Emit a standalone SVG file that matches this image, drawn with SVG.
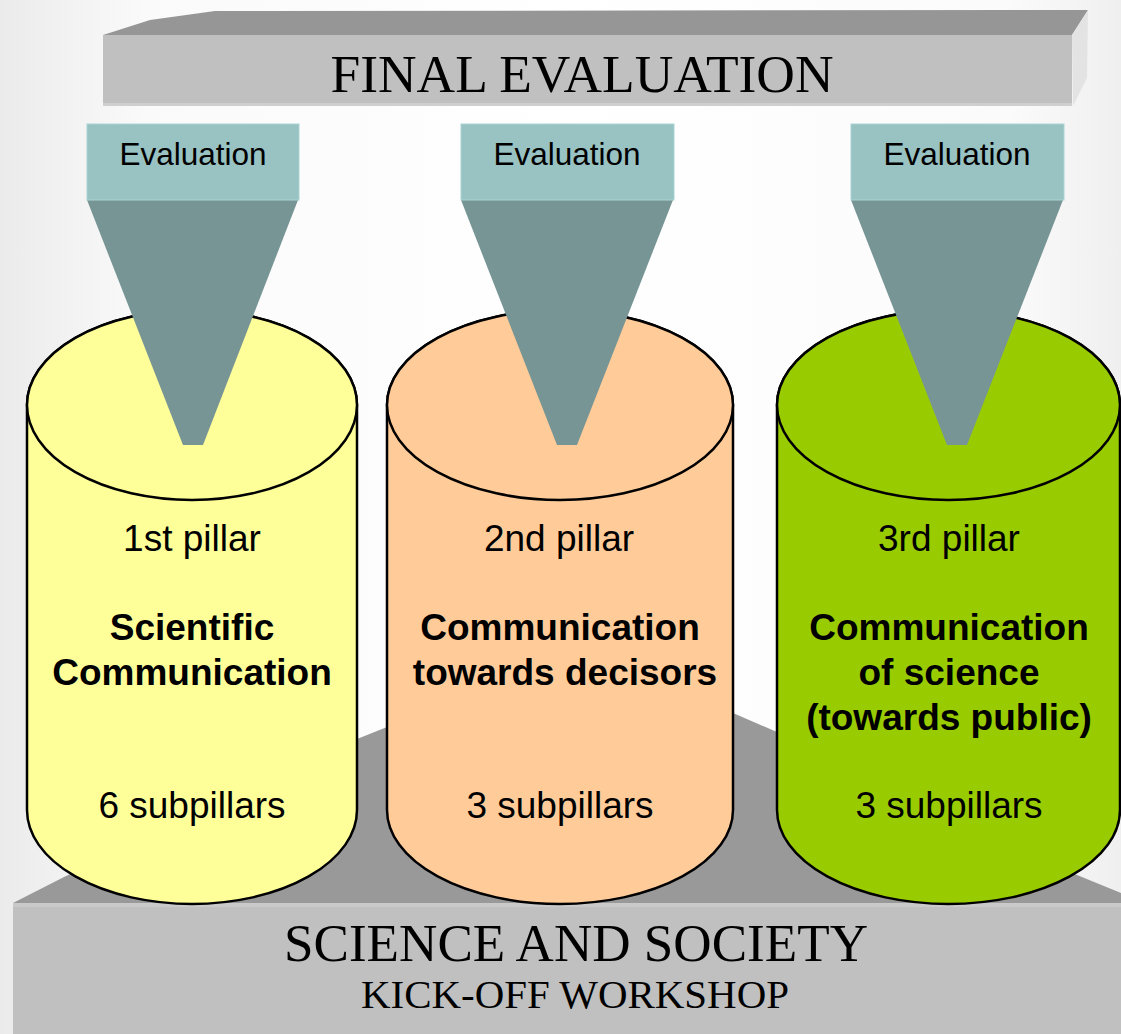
<svg xmlns="http://www.w3.org/2000/svg" width="1121" height="1034" viewBox="0 0 1121 1034">
<defs>
<linearGradient id="bg" x1="0" y1="0" x2="1" y2="0">
<stop offset="0" stop-color="#ebebeb"/>
<stop offset="0.13" stop-color="#fafafa"/>
<stop offset="0.5" stop-color="#ffffff"/>
<stop offset="0.9" stop-color="#fbfbfb"/>
<stop offset="1" stop-color="#efefef"/>
</linearGradient>
<style>
.serif{font-family:"Liberation Serif","Times New Roman",serif;fill:#000;text-anchor:middle}
.sans{font-family:"Liberation Sans",Arial,sans-serif;fill:#000;text-anchor:middle}
.lbl{font-size:37px}
.b{font-size:37px;font-weight:bold}
.evbox{fill:#99c2c2;stroke:#a9d4d4;stroke-width:1}
.funnel{fill:#789595}
.cyl{stroke:#000;stroke-width:2.5}
.ev{font-size:31.5px}
</style>
</defs>
<rect width="1121" height="1034" fill="url(#bg)"/>

<g id="final-evaluation">
<polygon points="103,35 150,20 215,11 1088,10 1072,35" fill="#969696"/>
<polygon points="1072,35 1088,10 1087,78 1073,106" fill="#e3e3e3"/>
<rect x="103" y="35" width="969" height="71" fill="#c0c0c0"/>
<rect x="103" y="103" width="969" height="3" fill="#cfcfcf"/>
<text class="serif" x="582" y="92" font-size="52" textLength="503" lengthAdjust="spacingAndGlyphs">FINAL EVALUATION</text>
</g>

<g id="base">
<polygon points="13,903 64,877 357,739 387,727 560,700 733,713 777,732 1077,875 1121,893 1121,903" fill="#999999"/>
<rect x="13" y="903" width="1108" height="131" fill="#c0c0c0"/>
<rect x="13" y="903" width="1108" height="4" fill="#cacaca"/>
<text class="serif" x="576" y="961" font-size="52" textLength="584" lengthAdjust="spacingAndGlyphs">SCIENCE AND SOCIETY</text>
<text class="serif" x="575" y="1008" font-size="39" textLength="428" lengthAdjust="spacingAndGlyphs">KICK-OFF WORKSHOP</text>
</g>

<g id="pillar1">
<path class="cyl" fill="#ffff99" d="M27,405 V810 A165,94 0 0 0 357,810 V405 A165,95 0 0 0 27,405 Z"/>
<ellipse class="cyl" fill="#ffff99" cx="192" cy="405" rx="165" ry="95"/>
<text class="sans lbl" x="192" y="551">1st pillar</text>
<text class="sans b" x="192" y="640">Scientific</text>
<text class="sans b" x="192" y="685">Communication</text>
<text class="sans lbl" x="192" y="818">6 subpillars</text>
</g>

<g id="pillar2">
<path class="cyl" fill="#ffcc99" d="M387,405 V810 A173,94 0 0 0 733,810 V405 A173,95 0 0 0 387,405 Z"/>
<ellipse class="cyl" fill="#ffcc99" cx="560" cy="405" rx="173" ry="95"/>
<text class="sans lbl" x="559" y="551">2nd pillar</text>
<text class="sans b" x="560" y="640">Communication</text>
<text class="sans b" x="565" y="685">towards decisors</text>
<text class="sans lbl" x="560" y="818">3 subpillars</text>
</g>

<g id="pillar3">
<path class="cyl" fill="#99cc00" d="M777,405 V810 A171.5,94 0 0 0 1120,810 V405 A171.5,95 0 0 0 777,405 Z"/>
<ellipse class="cyl" fill="#99cc00" cx="948.5" cy="405" rx="171.5" ry="95"/>
<text class="sans lbl" x="949" y="551">3rd pillar</text>
<text class="sans b" x="949" y="640">Communication</text>
<text class="sans b" x="949" y="685">of science</text>
<text class="sans b" x="949" y="730">(towards public)</text>
<text class="sans lbl" x="949" y="818">3 subpillars</text>
</g>

<g id="evaluation1">
<polygon class="funnel" points="87,200 298,200 203,445 183,445"/>
<rect class="evbox" x="87" y="124" width="212" height="76"/>
<text class="sans ev" x="193" y="165">Evaluation</text>
</g>
<g id="evaluation2">
<polygon class="funnel" points="461,200 673,200 577,445 557,445"/>
<rect class="evbox" x="461" y="124" width="213" height="76"/>
<text class="sans ev" x="567" y="165">Evaluation</text>
</g>
<g id="evaluation3">
<polygon class="funnel" points="851,200 1063,200 967,445 947,445"/>
<rect class="evbox" x="851" y="124" width="213" height="76"/>
<text class="sans ev" x="957" y="165">Evaluation</text>
</g>

<g id="connectors"></g>
</svg>
